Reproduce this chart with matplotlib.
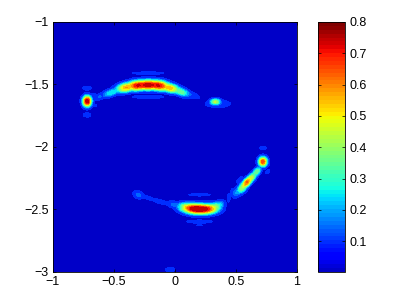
import numpy as np
import matplotlib
matplotlib.use("Agg")
import matplotlib.pyplot as plt
from matplotlib.colors import LinearSegmentedColormap, Normalize
from matplotlib.cm import ScalarMappable

plt.rcParams['font.family'] = ['Liberation Sans', 'DejaVu Sans']

# density bumps: centre, half-widths (along, across), tilt in data units, height
bump_x = [-0.72, -0.72, -0.72, -0.66, -0.67,
          -0.62, -0.52, -0.40, -0.31, -0.22, -0.13, -0.04, 0.05, 0.14,
          0.33, 0.35, -0.22, -0.22, -0.24,
          -0.30, -0.22, -0.12, 0.00, 0.09, 0.15, 0.20, 0.26, 0.33, 0.37,
          0.44, 0.47, 0.50, 0.55, 0.59, 0.63, 0.67, 0.72, 0.72, 0.76, 0.53,
          0.20, 0.20, 0.20, -0.04]
bump_y = [-1.635, -1.53, -1.745, -1.67, -1.58,
          -1.60, -1.565, -1.525, -1.51, -1.505, -1.51, -1.53, -1.56, -1.585,
          -1.64, -1.655, -1.41, -1.60, -1.33,
          -2.385, -2.41, -2.44, -2.465, -2.485, -2.495, -2.50, -2.50, -2.48, -2.46,
          -2.41, -2.36, -2.37, -2.33, -2.285, -2.245, -2.20, -2.12, -2.01, -2.20, -2.26,
          -2.385, -2.60, -2.63, -2.985]
bump_sx = [0.026, 0.030, 0.025, 0.022, 0.018,
           0.035, 0.060, 0.060, 0.060, 0.080, 0.060, 0.060, 0.055, 0.050,
           0.032, 0.080, 0.100, 0.100, 0.020,
           0.032, 0.045, 0.055, 0.050, 0.050, 0.070, 0.075, 0.070, 0.045, 0.030,
           0.012, 0.012, 0.030, 0.040, 0.045, 0.035, 0.034, 0.026, 0.028, 0.020, 0.040,
           0.080, 0.090, 0.050, 0.035]
bump_sy = [0.031, 0.014, 0.014, 0.012, 0.012,
           0.018, 0.021, 0.027, 0.029, 0.029, 0.029, 0.026, 0.023, 0.017,
           0.018, 0.024, 0.008, 0.010, 0.006,
           0.022, 0.012, 0.014, 0.020, 0.027, 0.029, 0.029, 0.029, 0.026, 0.022,
           0.034, 0.026, 0.024, 0.024, 0.020, 0.020, 0.019, 0.028, 0.014, 0.012, 0.012,
           0.009, 0.011, 0.008, 0.016]
bump_tilt = [0, 0, 0, 0, 0,
             0.5, 0.35, 0.2, 0.08, 0, -0.1, -0.22, -0.35, -0.4,
             0, 0, 0, 0, 0,
             -0.4, -0.35, -0.25, -0.18, -0.1, -0.05, 0, 0.05, 0.2, 0.35,
             0, 0, 1.0, 1.05, 1.05, 1.05, 1.1, 0, 0, 1.0, 0.9,
             0, 0, 0, 0]
bump_h = [0.82, 0.12, 0.13, 0.09, 0.09,
          0.16, 0.30, 0.60, 0.74, 0.80, 0.74, 0.58, 0.38, 0.14,
          0.46, 0.14, 0.14, 0.14, 0.06,
          0.18, 0.12, 0.12, 0.18, 0.45, 0.74, 0.82, 0.70, 0.40, 0.22,
          0.10, 0.10, 0.20, 0.42, 0.66, 0.46, 0.40, 0.70, 0.10, 0.10, 0.09,
          0.11, 0.12, 0.07, 0.11]

x_ticks = [-1, -0.5, 0, 0.5, 1]
x_labels = ['\u22121', '\u22120.5', '0', '0.5', '1']
y_ticks = [-3, -2.5, -2, -1.5, -1]
y_labels = ['\u22123', '\u22122.5', '\u22122', '\u22121.5', '\u22121']
c_ticks = [0.1, 0.2, 0.3, 0.4, 0.5, 0.6, 0.7, 0.8]

W, H = 407, 307
fig = plt.figure(figsize=(W / 100, H / 100), dpi=100)
ax = fig.add_axes([53 / W, 1 - 271.5 / H, 244 / W, 249.5 / H])
cax = fig.add_axes([318 / W, 1 - 271.5 / H, 27 / W, 249.5 / H])

gx, gy = np.meshgrid(np.linspace(-1, 1, 401), np.linspace(-3, -1, 401))
p = 4.0
total = np.zeros_like(gx)
for x0, y0, sx, sy, t, h in zip(bump_x, bump_y, bump_sx, bump_sy, bump_tilt, bump_h):
    th = np.arctan(t)
    dx, dy = gx - x0, gy - y0
    u = dx * np.cos(th) + dy * np.sin(th)
    v = -dx * np.sin(th) + dy * np.cos(th)
    total += (h * np.exp(-0.5 * ((u / sx) ** 2 + (v / sy) ** 2))) ** p
field = total ** (1 / p)

base = plt.get_cmap('jet')
cmap = LinearSegmentedColormap.from_list('jet_cut', base(np.linspace(0.066, 1, 64)), N=64)
norm = Normalize(0.003, 0.8)
levels = np.array([0.003, 0.06, 0.10, 0.15, 0.20, 0.25, 0.30, 0.35, 0.40, 0.45, 0.50,
                   0.55, 0.60, 0.65, 0.70, 0.75, 0.80])
fill_colors = [cmap(norm(v)) for v in levels[:-1]]
fill_colors[1] = cmap(norm(0.10))
ax.contourf(gx, gy, np.clip(field, 0.004, 0.799), levels=levels, colors=fill_colors)
ax.set_xlim(-1, 1)
ax.set_ylim(-3, -1)
ax.set_xticks(x_ticks, x_labels)
ax.set_yticks(y_ticks, y_labels)
ax.tick_params(direction='in', length=2.5, width=0.5, top=True, right=True, labelsize=9, pad=3)

cb = fig.colorbar(ScalarMappable(norm=norm, cmap=cmap), cax=cax)
cb.set_ticks(c_ticks)
cb.set_ticklabels([f'{v:.1f}' for v in c_ticks])
cax.tick_params(direction='in', length=2.5, width=0.5, left=True, right=True, labelsize=9, pad=3)
for a in (ax, cax):
    for s in a.spines.values():
        s.set_linewidth(0.6)
cb.outline.set_linewidth(0.6)

fig.savefig('out.png', dpi=100)
